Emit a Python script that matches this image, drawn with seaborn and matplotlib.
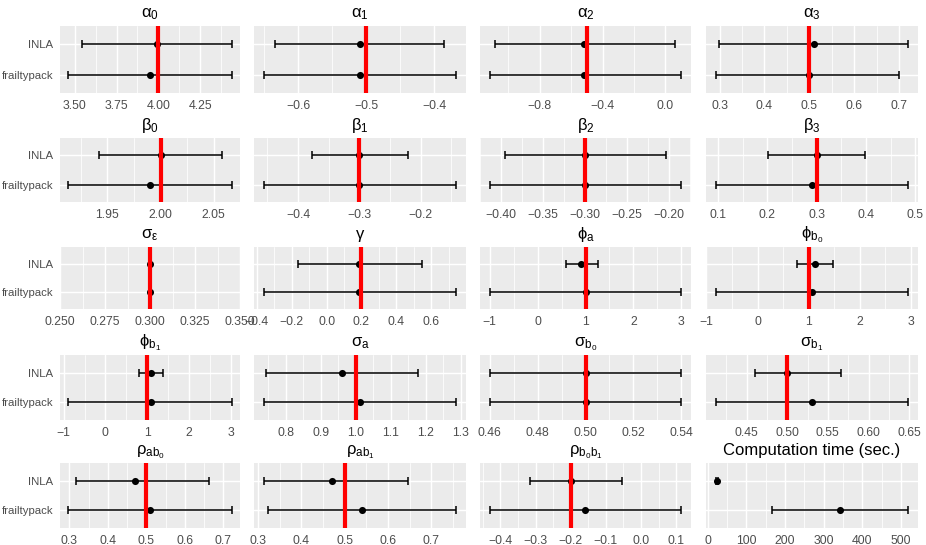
import numpy as np
import pandas as pd
import matplotlib
matplotlib.use('Agg')
import matplotlib.pyplot as plt
from matplotlib.ticker import AutoMinorLocator, FixedLocator
import seaborn as sns

# methods compared in every panel (top to bottom)
methods = ['INLA', 'frailtypack']

titles = ['α$_0$', 'α$_1$', 'α$_2$', 'α$_3$',
          'β$_0$', 'β$_1$', 'β$_2$', 'β$_3$',
          'σ$_ε$', 'γ', 'ϕ$_a$', 'ϕ$_{b_0}$',
          'ϕ$_{b_1}$', 'σ$_a$', 'σ$_{b_0}$', 'σ$_{b_1}$',
          'ρ$_{ab_0}$', 'ρ$_{ab_1}$', 'ρ$_{b_0b_1}$', 'Computation time (sec.)']

# true values (red line), nan = none
true_vals = [4.0, -0.5, -0.5, 0.5, 2.0, -0.3, -0.3, 0.3, 0.3, 0.2,
             1.0, 1.0, 1.0, 1.0, 0.5, 0.5, 0.5, 0.5, -0.2, np.nan]

inla_est = [3.99, -0.509, -0.517, 0.510, 2.000, -0.300, -0.300, 0.300, 0.300, 0.185,
            0.91, 1.13, 1.08, 0.962, 0.500, 0.500, 0.471, 0.470, -0.200, 24]
inla_low = [3.54, -0.634, -1.083, 0.299, 1.942, -0.378, -0.396, 0.201, 0.300, -0.166,
            0.585, 0.77, 0.80, 0.745, 0.460, 0.461, 0.317, 0.313, -0.315, 21]
inla_high = [4.44, -0.385, 0.064, 0.721, 2.058, -0.221, -0.203, 0.398, 0.300, 0.545,
             1.254, 1.48, 1.38, 1.178, 0.540, 0.566, 0.663, 0.646, -0.053, 27]

fp_est = [3.95, -0.509, -0.517, 0.499, 1.990, -0.300, -0.300, 0.290, 0.300, 0.185,
          1.00, 1.07, 1.08, 1.012, 0.500, 0.530, 0.510, 0.541, -0.159, 342]
fp_low = [3.46, -0.651, -1.119, 0.291, 1.913, -0.456, -0.414, 0.095, 0.300, -0.361,
          -1.00, -0.82, -0.89, 0.737, 0.460, 0.412, 0.297, 0.324, -0.431, 167]
fp_high = [4.44, -0.367, 0.102, 0.701, 2.067, -0.142, -0.185, 0.486, 0.300, 0.744,
           3.00, 2.95, 3.02, 1.287, 0.540, 0.649, 0.722, 0.758, 0.115, 519]

# x tick breaks and decimals per panel
x_ticks = [[3.50, 3.75, 4.00, 4.25], [-0.6, -0.5, -0.4], [-0.8, -0.4, 0.0],
           [0.3, 0.4, 0.5, 0.6, 0.7],
           [1.95, 2.00, 2.05], [-0.4, -0.3, -0.2], [-0.40, -0.35, -0.30, -0.25, -0.20],
           [0.1, 0.2, 0.3, 0.4, 0.5],
           [0.250, 0.275, 0.300, 0.325, 0.350], [-0.4, -0.2, 0.0, 0.2, 0.4, 0.6],
           [-1, 0, 1, 2, 3], [-1, 0, 1, 2, 3],
           [-1, 0, 1, 2, 3], [0.8, 0.9, 1.0, 1.1, 1.2, 1.3],
           [0.46, 0.48, 0.50, 0.52, 0.54], [0.45, 0.50, 0.55, 0.60, 0.65],
           [0.3, 0.4, 0.5, 0.6, 0.7], [0.3, 0.4, 0.5, 0.6, 0.7],
           [-0.4, -0.3, -0.2, -0.1, 0.0, 0.1], [0, 100, 200, 300, 400, 500]]
x_dec = [2, 1, 1, 1, 2, 1, 2, 1, 3, 1, 0, 0, 0, 1, 2, 2, 1, 1, 1, 0]

sns.set_style('darkgrid', {'axes.facecolor': '#EBEBEB', 'grid.color': 'white'})
plt.rcParams['font.family'] = ['Liberation Sans', 'DejaVu Sans']
plt.rcParams['mathtext.fontset'] = 'custom'
plt.rcParams['mathtext.rm'] = 'Liberation Sans'
plt.rcParams['mathtext.it'] = 'Liberation Sans'
plt.rcParams['mathtext.default'] = 'regular'

W, H = 926, 545
fig = plt.figure(figsize=(W / 100, H / 100), dpi=100)

# panel boxes in pixels
cols_px = [(60, 240), (254, 466), (480, 691), (706, 918)]
rows_px = [(26, 93), (138, 202), (247, 309), (355, 420), (463, 528)]

ypos = np.arange(len(methods))

for i, title in enumerate(titles):
    r, c = divmod(i, 4)
    x0, x1 = cols_px[c]
    y0, y1 = rows_px[r]
    ax = fig.add_axes([x0 / W, 1 - y1 / H, (x1 - x0) / W, (y1 - y0) / H])

    est = [inla_est[i], fp_est[i]]
    low = [inla_low[i], fp_low[i]]
    high = [inla_high[i], fp_high[i]]
    df = pd.DataFrame({'method': methods, 'pos': ypos, 'est': est,
                       'low': low, 'high': high})

    ax.errorbar(df['est'], df['pos'],
                xerr=[df['est'] - df['low'], df['high'] - df['est']],
                fmt='none', ecolor='black', elinewidth=1.1, capsize=2.9,
                capthick=1.1, zorder=2)
    sns.scatterplot(data=df, x='est', y='pos', ax=ax, color='black', s=26,
                    linewidth=0, zorder=3)
    if not np.isnan(true_vals[i]):
        ax.axvline(true_vals[i], color='#FF0000', lw=3.0, zorder=4)

    # ggplot-like limits: data + true value, expanded 5%
    vals = low + high + ([] if np.isnan(true_vals[i]) else [true_vals[i]])
    lo, hi = min(vals), max(vals)
    if hi - lo < 1e-9:
        ax.set_xlim(lo - 0.05, hi + 0.05)
    else:
        pad = 0.05 * (hi - lo)
        ax.set_xlim(lo - pad, hi + pad)
    ax.set_ylim(1.6, -0.6)

    ax.xaxis.set_major_locator(FixedLocator(x_ticks[i]))
    ax.set_xticklabels([f'{t:.{x_dec[i]}f}'.replace('-', '\u2212') for t in x_ticks[i]])
    ax.xaxis.set_minor_locator(AutoMinorLocator(2))
    ax.grid(which='major', color='white', lw=1.07)
    ax.grid(which='minor', axis='x', color='white', lw=0.55)

    ax.set_yticks(ypos)
    if c == 0:
        ax.set_yticklabels(methods)
        ax.tick_params(axis='y', length=2.75, width=0.8, color='#333333')
    elif i == len(titles) - 1:
        ax.set_yticklabels(['', ''])
        ax.tick_params(axis='y', length=2.75, width=0.8, color='#333333')
    else:
        ax.set_yticklabels(['', ''])
        ax.tick_params(axis='y', length=0)
    ax.tick_params(axis='x', which='major', length=2.75, width=0.8, color='#333333')
    ax.tick_params(axis='x', which='minor', length=0)
    ax.tick_params(axis='x', labelsize=8.8, labelcolor='#4D4D4D', pad=2)
    ax.tick_params(axis='y', labelsize=8.2, labelcolor='#4D4D4D', pad=2)

    ax.set_xlabel('')
    ax.set_ylabel('')
    for s in ax.spines.values():
        s.set_visible(False)
    ax.set_title(title, fontsize=12, pad=6, color='black')

fig.savefig('out.png', dpi=100, facecolor='white')
